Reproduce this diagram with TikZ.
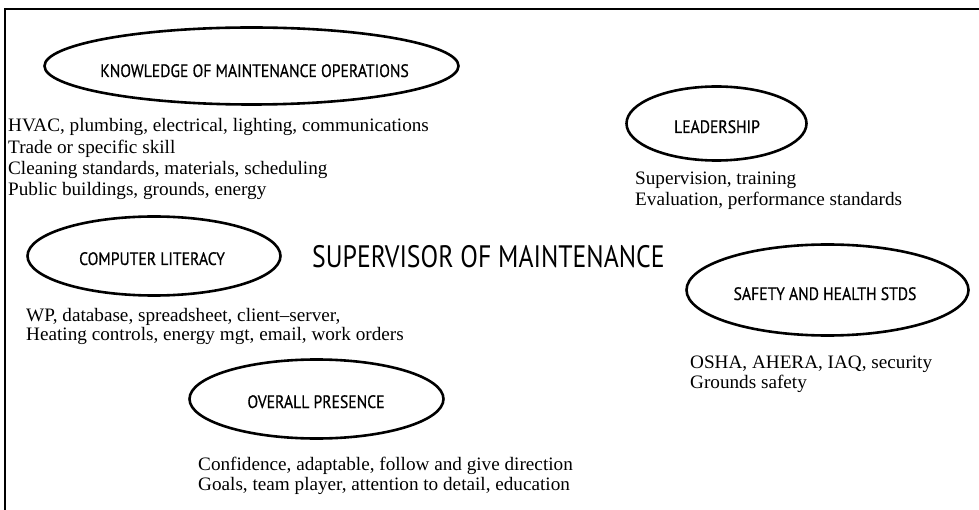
\documentclass[tikz,border=0pt]{standalone}
\usepackage{fontspec}
\setmainfont{Liberation Serif}
\newfontfamily\bodyfont[FakeStretch=1.01]{Liberation Serif}
\newfontfamily\labfont[FakeStretch=0.87,FakeBold=0.6]{PT Sans}
\newfontfamily\titfont[FakeStretch=0.83]{PT Sans}
\usetikzlibrary{shapes.geometric}
\begin{document}
\begin{tikzpicture}[x=1pt,y=-1pt,
  oval/.style={draw, line width=2.6pt, ellipse, inner sep=0pt},
  lab/.style={font=\labfont\fontsize{18}{20}\selectfont, inner sep=0pt, anchor=base},
  body/.style={font=\bodyfont\fontsize{19}{21}\selectfont, anchor=base west, inner sep=0pt},
  frame/.style={line width=2pt}
]
\useasboundingbox (0,0) rectangle (979,510);
\coordinate (fTL) at (4.5,9.5);
\coordinate (fTR) at (979,9.5);
\coordinate (fBL) at (4.5,510);
\draw[frame] (fBL) -- (fTL) -- (fTR);

% ellipses
\node[oval, minimum width=414pt, minimum height=77pt] (kEll) at (251.5,66) {};
\node[oval, minimum width=180pt, minimum height=74pt] (lEll) at (716.5,123.5) {};
\node[oval, minimum width=253pt, minimum height=79pt] (cEll) at (154,256) {};
\node[oval, minimum width=282pt, minimum height=91pt] (sEll) at (827.5,290) {};
\node[oval, minimum width=254pt, minimum height=79pt] (oEll) at (316.5,399) {};

% labels
\node[lab] (kLab) at (254.5,77) {KNOWLEDGE OF MAINTENANCE OPERATIONS};
\node[lab] (lLab) at (717,133) {LEADERSHIP};
\node[lab] (cLab) at (152,265) {COMPUTER LITERACY};
\node[lab] (sLab) at (825,300) {SAFETY AND HEALTH STDS};
\node[lab] (oLab) at (316,408) {OVERALL PRESENCE};

% title
\node[font=\titfont\fontsize{31}{34}\selectfont, anchor=base west, inner sep=0pt] (title) at (312,268) {SUPERVISOR OF MAINTENANCE};

% lists
\node[body] (k1) at (8,132) {HVAC, plumbing, electrical, lighting, communications};
\node[body] (k2) at (8,153.3) {Trade or specific skill};
\node[body] (k3) at (8,174.6) {Cleaning standards, materials, scheduling};
\node[body] (k4) at (8,196) {Public buildings, grounds, energy};

\node[body] (l1) at (635,185) {Supervision, training};
\node[body] (l2) at (635,206) {Evaluation, performance standards};

\node[body] (c1) at (26,321) {WP, database, spreadsheet, client\textendash server,};
\node[body] (c2) at (26,341) {Heating controls, energy mgt, email, work orders};

\node[body] (s1) at (690,368) {OSHA, AHERA, IAQ, security};
\node[body] (s2) at (690,388) {Grounds safety};

\node[body] (o1) at (198,470) {Confidence, adaptable, follow and give direction};
\node[body] (o2) at (198,490) {Goals, team player, attention to detail, education};
\end{tikzpicture}
\end{document}
